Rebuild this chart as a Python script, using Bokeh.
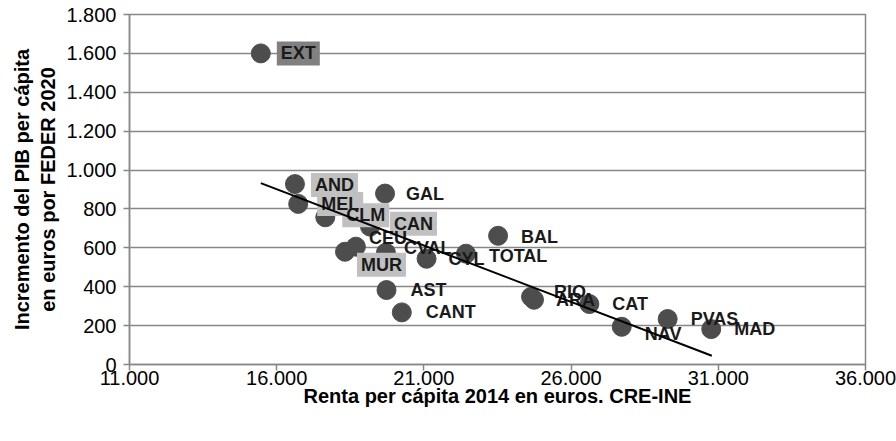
from bokeh.plotting import figure
from bokeh.models import Label, FixedTicker, Range1d, ColumnDataSource
from bokeh.embed import file_html
from bokeh.resources import INLINE

# ---- data ----
regions = ["EXT", "AND", "MEL", "CLM", "CAN", "CEU", "MUR", "CVAL", "GAL", "CYL",
           "TOTAL", "BAL", "AST", "CANT", "RIO", "ARA", "CAT", "NAV", "PVAS", "MAD"]
renta = [15460, 16620, 16730, 17650, 19170, 18690, 18320, 19710, 19680, 21090,
         22430, 23520, 19730, 20250, 24640, 24740, 26620, 27720, 29280, 30760]
incremento = [1600, 928, 826, 757, 709, 606, 580, 575, 879, 544,
              570, 662, 383, 268, 348, 333, 311, 194, 234, 182]

trend_x = [15460, 30780]
trend_y = [933, 45]

x_ticks = [11000, 16000, 21000, 26000, 31000, 36000]
x_tick_labels = ["11.000", "16.000", "21.000", "26.000", "31.000", "36.000"]
y_ticks = [0, 200, 400, 600, 800, 1000, 1200, 1400, 1600, 1800]
y_tick_labels = ["0", "200", "400", "600", "800", "1.000", "1.200", "1.400", "1.600", "1.800"]

x_title = "Renta per cápita 2014 en euros. CRE-INE"
y_title = "Incremento del PIB per cápita\nen euros por FEDER 2020"

# ---- label styling (offsets in screen px, box style) ----
label_layout = {
    "EXT": (16, 0, "dark"), "AND": (16, -1, "light"), "MEL": (19, 0, "light"),
    "CLM": (17, 2, "light"), "CAN": (20, 3, "light"), "CEU": (9, 9, None),
    "MUR": (12, -13, "light"), "CVAL": (14, 5, None), "GAL": (17, 0, None),
    "CYL": (18, 0, None), "TOTAL": (19, -2, None), "BAL": (19, -1, None),
    "AST": (20, 0, None), "CANT": (20, 0, None), "RIO": (19, 5, None),
    "ARA": (18, 0, None), "CAT": (19, 0, None), "NAV": (19, -7, None),
    "PVAS": (19, 0, None), "MAD": (19, 0, None),
}
box_colors = {"dark": "#808080", "light": "#c0c0c0"}

FONT = "Liberation Sans"
GRID = "#878787"

p = figure(frame_width=736, frame_height=350,
           min_border_left=129, min_border_right=31, min_border_top=14, min_border_bottom=77,
           x_range=Range1d(x_ticks[0], x_ticks[-1]), y_range=Range1d(y_ticks[0], y_ticks[-1]),
           output_backend="svg", toolbar_location=None)
p.background_fill_color = "white"
p.border_fill_color = "white"
p.outline_line_color = GRID
p.outline_line_width = 1.5

p.xgrid.visible = False
p.ygrid.grid_line_color = GRID
p.ygrid.grid_line_width = 1.3
p.ygrid.ticker = FixedTicker(ticks=y_ticks)

p.xaxis.ticker = FixedTicker(ticks=x_ticks)
p.yaxis.ticker = FixedTicker(ticks=y_ticks)
p.xaxis.major_label_overrides = {t: l for t, l in zip(x_ticks, x_tick_labels)}
p.yaxis.major_label_overrides = {t: l for t, l in zip(y_ticks, y_tick_labels)}
for ax in (p.xaxis[0], p.yaxis[0]):
    ax.axis_line_color = GRID
    ax.axis_line_width = 1.5
    ax.major_tick_line_color = GRID
    ax.major_tick_line_width = 1.5
    ax.major_tick_in = 0
    ax.major_tick_out = 6
    ax.minor_tick_line_color = None
    ax.major_label_text_font = FONT
    ax.major_label_text_font_size = "20px"
    ax.major_label_text_color = "black"
    ax.axis_label_text_font = FONT
    ax.axis_label_text_font_style = "bold"
    ax.axis_label_text_font_size = "20px"
    ax.axis_label_text_color = "black"
p.xaxis.axis_label = x_title
p.yaxis.axis_label = y_title
p.xaxis.major_label_standoff = 0
p.xaxis.axis_label_standoff = -3
p.yaxis.major_label_standoff = 7
p.yaxis.axis_label_standoff = 4

src = ColumnDataSource(dict(x=renta, y=incremento, name=regions))
p.scatter("x", "y", source=src, size=19, fill_color="#4d4d4d", line_color="#4d4d4d")

label_kw = dict(text_align="left", text_baseline="middle", text_font=FONT,
                text_font_style="bold", text_font_size="18px", padding=(4, 2))
# boxes first (text hidden in box colour), then all texts on top of every box
for name, xv, yv in zip(regions, renta, incremento):
    dx, dy, box = label_layout[name]
    if box:
        p.add_layout(Label(x=xv, y=yv, text=name, x_offset=dx, y_offset=dy,
                           text_color=box_colors[box], background_fill_color=box_colors[box],
                           **label_kw))
for name, xv, yv in zip(regions, renta, incremento):
    dx, dy, box = label_layout[name]
    p.add_layout(Label(x=xv, y=yv, text=name, x_offset=dx, y_offset=dy,
                       text_color="#1a1a1a", **label_kw))

tr = p.line(trend_x, trend_y, line_color="black", line_width=2)
tr.level = "overlay"

open("out.html", "w").write(file_html(p, INLINE))
